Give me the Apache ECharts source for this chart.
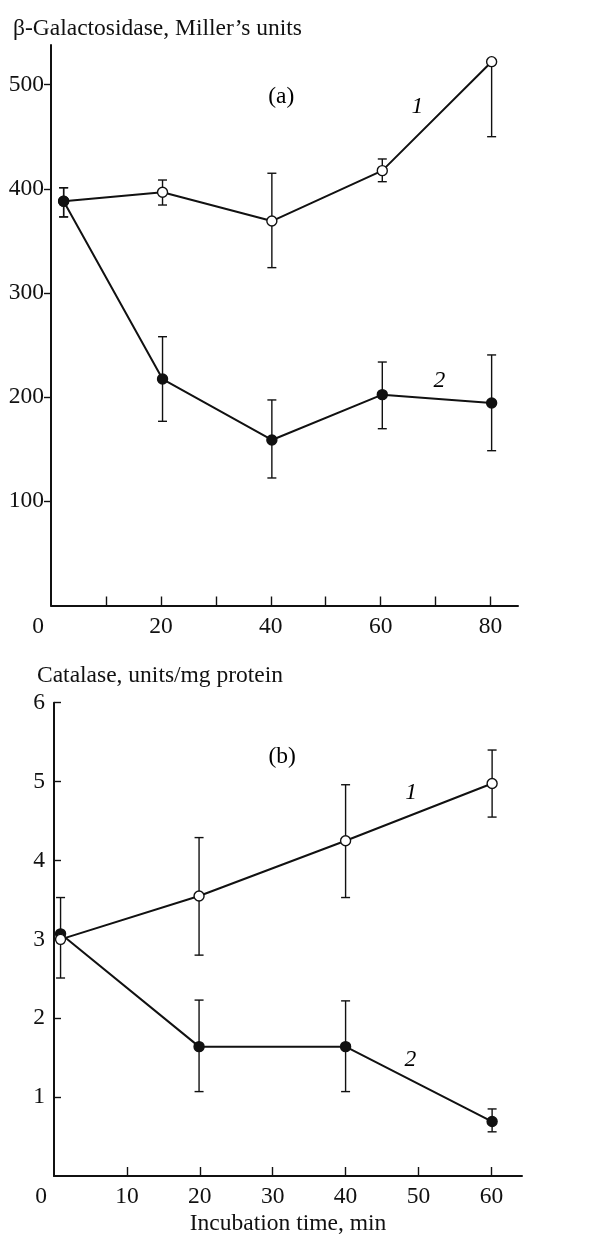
<!DOCTYPE html>
<html><head><meta charset="utf-8">
<script src="https://cdn.jsdelivr.net/npm/echarts@6/dist/echarts.min.js"></script>
<style>html,body{margin:0;padding:0;background:#fff}#c{width:589px;height:1237px}</style>
</head><body><div id="c"></div>
<script>
// Panel (a): beta-galactosidase
const aX = [2.3, 20.3, 40.2, 60.3, 80.2];
const aS1 = [388, 396.6, 369, 417.4, 522];
const aS1Lo = [373, 384.4, 324.3, 406.8, 450];
const aS1Hi = [401, 408.4, 414.9, 428.6, 522];
const aS2 = [388, 217.4, 158.9, 202.4, 194.4];
const aS2Lo = [373, 176.8, 122.4, 169.7, 148.6];
const aS2Hi = [401, 258, 197.3, 233.7, 240.5];
const aXTicks = [10, 20, 30, 40, 50, 60, 70, 80];
const aXLabels = [0, 20, 40, 60, 80];
const aYTicks = [100, 200, 300, 400, 500];
const aNotes = [{t: '(a)', x: 41.9, y: 488, it: false}, {t: '1', x: 66.7, y: 478.8, it: true}, {t: '2', x: 70.7, y: 215.5, it: true}];
// Panel (b): catalase
const bX = [0.9, 19.9, 40.0, 60.1];
const bS1 = [3.0, 3.55, 4.25, 4.975];
const bS1Lo = [2.51, 2.80, 3.53, 4.55];
const bS1Hi = [3.53, 4.29, 4.96, 5.40];
const bS2 = [3.07, 1.64, 1.64, 0.69];
const bS2Lo = [3.07, 1.07, 1.07, 0.56];
const bS2Hi = [3.07, 2.23, 2.22, 0.85];
const bXTicks = [10, 20, 30, 40, 50, 60];
const bXLabels = [0, 10, 20, 30, 40, 50, 60];
const bYTicks = [1, 2, 3, 4, 5, 6];
const bNotes = [{t: '(b)', x: 31.3, y: 5.32, it: false}, {t: '1', x: 49.0, y: 4.86, it: true}, {t: '2', x: 48.9, y: 1.47, it: true}];

const FONT = 'Liberation Serif';
const FS = 23.5;
const INK = '#111';

function errRender(params, api) {
  const x = api.value(0), lo = api.value(1), hi = api.value(2);
  if (lo === hi) return null;
  const p1 = api.coord([x, hi]), p2 = api.coord([x, lo]);
  const w = 4.5;
  const st = {stroke: INK, lineWidth: 1.4};
  return {type: 'group', children: [
    {type: 'line', shape: {x1: p1[0], y1: p1[1], x2: p2[0], y2: p2[1]}, style: st},
    {type: 'line', shape: {x1: p1[0] - w, y1: p1[1], x2: p1[0] + w, y2: p1[1]}, style: st},
    {type: 'line', shape: {x1: p2[0] - w, y1: p2[1], x2: p2[0] + w, y2: p2[1]}, style: st}
  ]};
}
function errSeries(xs, lo, hi, idx) {
  return {type: 'custom', xAxisIndex: idx, yAxisIndex: idx, renderItem: errRender, z: 1,
    encode: {x: 0, y: [1, 2]}, data: xs.map((x, i) => [x, lo[i], hi[i]]), silent: true};
}
function lineSeries(xs, ys, idx, open, z) {
  return {type: 'line', xAxisIndex: idx, yAxisIndex: idx, z: z,
    data: xs.map((x, i) => [x, ys[i]]), symbol: 'circle', symbolSize: 10,
    lineStyle: {color: INK, width: 2},
    itemStyle: {color: open ? '#fff' : INK, borderColor: INK, borderWidth: 1.4},
    showSymbol: true, animation: false, silent: true};
}
function noteSeries(notes, idx) {
  return {type: 'scatter', xAxisIndex: idx, yAxisIndex: idx, symbolSize: 0, z: 5,
    itemStyle: {opacity: 1},
    data: notes.map(n => ({value: [n.x, n.y], label: {show: true, position: 'inside', formatter: n.t, opacity: 1,
      fontFamily: FONT, fontSize: FS, color: '#000', fontStyle: n.it ? 'italic' : 'normal'}})),
    silent: true};
}
function xAxisCfg(idx, min, max, ticks, labels, name) {
  return {type: 'value', gridIndex: idx, min: min, max: max,
    axisLine: {show: true, lineStyle: {color: INK, width: 2}},
    axisTick: {show: true, inside: true, length: 9, customValues: ticks, lineStyle: {color: INK, width: 1.4}},
    axisLabel: {show: true, customValues: labels, margin: 9, fontFamily: FONT, fontSize: FS, color: INK,
      formatter: v => v === 0 ? '{z|0}' : String(v),
      rich: {z: {fontFamily: FONT, fontSize: FS, color: INK, padding: [0, 26, 0, 0]}}},
    splitLine: {show: false},
    name: name || '', nameLocation: 'middle', nameGap: 36,
    nameTextStyle: {fontFamily: FONT, fontSize: FS, color: INK}};
}
function yAxisCfg(idx, min, max, ticks, inside, margin) {
  return {type: 'value', gridIndex: idx, min: min, max: max,
    axisLine: {show: true, lineStyle: {color: INK, width: 2}},
    axisTick: {show: true, inside: inside, length: 7, customValues: ticks, lineStyle: {color: INK, width: 1.4}},
    axisLabel: {show: true, customValues: ticks, margin: margin, fontFamily: FONT, fontSize: FS, color: INK},
    splitLine: {show: false}};
}

const chart = echarts.init(document.getElementById('c'), null, {renderer: 'canvas'});
chart.setOption({
  backgroundColor: '#fff',
  animation: false,
  title: [
    {text: 'β-Galactosidase, Miller’s units', left: 8, top: 12, textStyle: {fontFamily: FONT, fontSize: FS, fontWeight: 'normal', color: INK}},
    {text: 'Catalase, units/mg protein', left: 32, top: 659, textStyle: {fontFamily: FONT, fontSize: FS, fontWeight: 'normal', color: INK}}
  ],
  grid: [
    {left: 51, right: 71, top: 45, height: 560.5},
    {left: 54, right: 67, top: 702.7, height: 476}
  ],
  xAxis: [
    xAxisCfg(0, 0, 85, aXTicks, aXLabels),
    xAxisCfg(1, 0, 64.2, bXTicks, bXLabels, 'Incubation time, min')
  ],
  yAxis: [
    yAxisCfg(0, 0, 538, aYTicks, false, 7),
    yAxisCfg(1, 0, 6, bYTicks, true, 9)
  ],
  series: [
    errSeries(aX, aS1Lo, aS1Hi, 0),
    errSeries(aX, aS2Lo, aS2Hi, 0),
    lineSeries(aX, aS1, 0, true, 2),
    lineSeries(aX, aS2, 0, false, 3),
    noteSeries(aNotes, 0),
    errSeries(bX, bS1Lo, bS1Hi, 1),
    errSeries(bX, bS2Lo, bS2Hi, 1),
    lineSeries(bX, bS2, 1, false, 2),
    lineSeries(bX, bS1, 1, true, 3),
    noteSeries(bNotes, 1)
  ]
});
</script></body></html>
